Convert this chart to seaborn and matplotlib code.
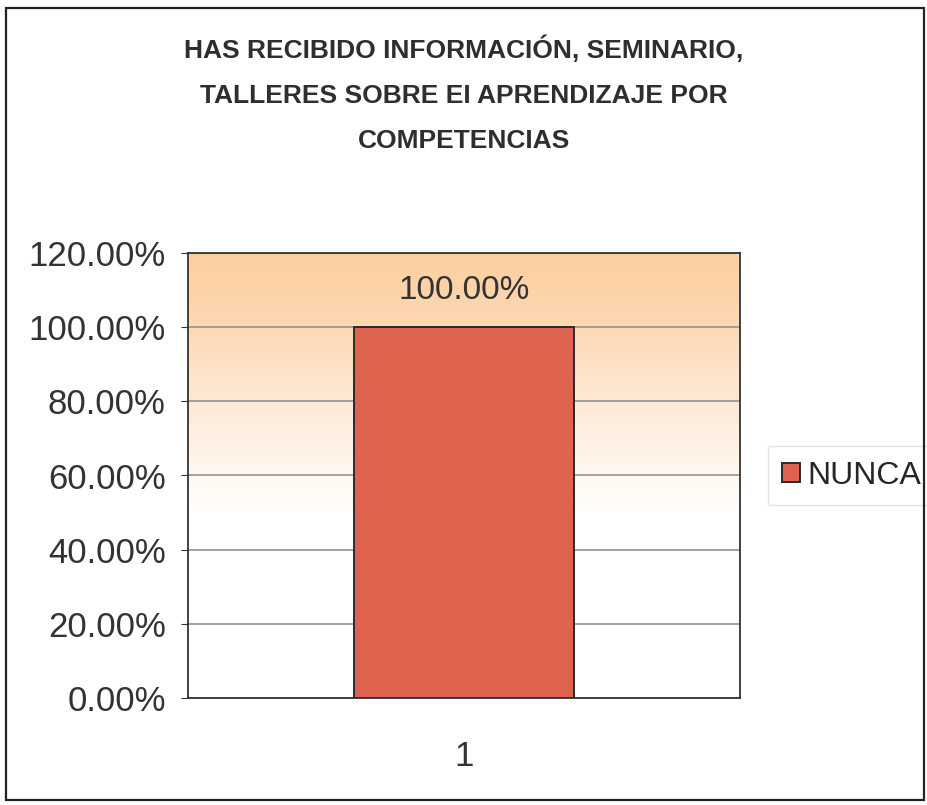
import numpy as np
import pandas as pd
import matplotlib
matplotlib.use("Agg")
import matplotlib.pyplot as plt
from matplotlib.colors import LinearSegmentedColormap
from matplotlib.patches import Rectangle
from matplotlib.ticker import FuncFormatter
import seaborn as sns

# ── Data ──────────────────────────────────────────────────────
categories = ["1"]
values = [1.0]
series_name = "NUNCA"
title = ("HAS RECIBIDO INFORMACIÓN, SEMINARIO,\n"
         "TALLERES SOBRE EI APRENDIZAJE POR\n"
         "COMPETENCIAS")
yticks = [0.0, 0.2, 0.4, 0.6, 0.8, 1.0, 1.2]

df = pd.DataFrame({"grupo": categories, "valor": values, "serie": series_name})

sns.set_style("white")
plt.rcParams["font.family"] = ["Liberation Sans", "DejaVu Sans"]

fig = plt.figure(figsize=(9.27, 8.05), dpi=100)
ax = fig.add_axes([188 / 927, 1 - 698 / 805, (740 - 188) / 927, (698 - 253) / 805])

# ── Background gradient (peach top -> white) ──────────────────
grad_cmap = LinearSegmentedColormap.from_list(
    "bg", [(0.0, "#ffffff"), (0.42, "#ffffff"), (0.5, "#fff8f0"),
           (0.67, "#fee9d4"), (0.83, "#fdd9b5"), (1.0, "#fccf9f")])
grad = np.linspace(0, 1, 256).reshape(-1, 1)
ax.imshow(grad, aspect="auto", cmap=grad_cmap, origin="lower",
          extent=[-0.5, 0.5, 0, 1.2], zorder=0)

sns.barplot(data=df, x="grupo", y="valor", hue="serie", palette=["#de6450"],
            saturation=1, width=0.4, edgecolor="#2a2a2a", linewidth=1.4,
            ax=ax, zorder=3)

ax.set_xlim(-0.5, 0.5)
ax.set_ylim(0, 1.2)
ax.set_yticks(yticks)
ax.yaxis.set_major_formatter(FuncFormatter(lambda v, _: f"{v * 100:.2f}%"))
ax.grid(axis="y", color="#9a9a9a", linewidth=1.3, zorder=1)
ax.set_axisbelow(True)
ax.set_xlabel("")
ax.set_ylabel("")
for s in ax.spines.values():
    s.set_color("#333333")
    s.set_linewidth(1.3)
ax.tick_params(axis="y", labelsize=25, colors="#333333", length=5, pad=11, left=True)
ax.tick_params(axis="x", labelsize=25, colors="#333333", length=0, pad=30)

for c in ax.containers:
    ax.bar_label(c, labels=[f"{v * 100:.2f}%" for v in values], padding=15,
                 fontsize=24, color="#333333")

leg = ax.legend(loc="center left", bbox_to_anchor=(1.05, 0.5), fontsize=23,
                frameon=True, handlelength=0.55, handleheight=0.55,
                handletextpad=0.25, borderpad=0.45, borderaxespad=0,
                fancybox=False)
leg.get_frame().set_edgecolor("#dddddd")
leg.get_frame().set_linewidth(1.0)

fig.text(464 / 927, 1 - 94 / 805, title, ha="center", va="center", fontsize=19,
         fontweight="bold", color="#2e2e2e", linespacing=2.1)

# outer chart border
fig.patches.append(Rectangle((6 / 927, 1 - 800 / 805), 918 / 927, 792 / 805,
                             transform=fig.transFigure, fill=False,
                             edgecolor="#222222", linewidth=1.6))

plt.savefig("out.png", dpi=100)
plt.close()
